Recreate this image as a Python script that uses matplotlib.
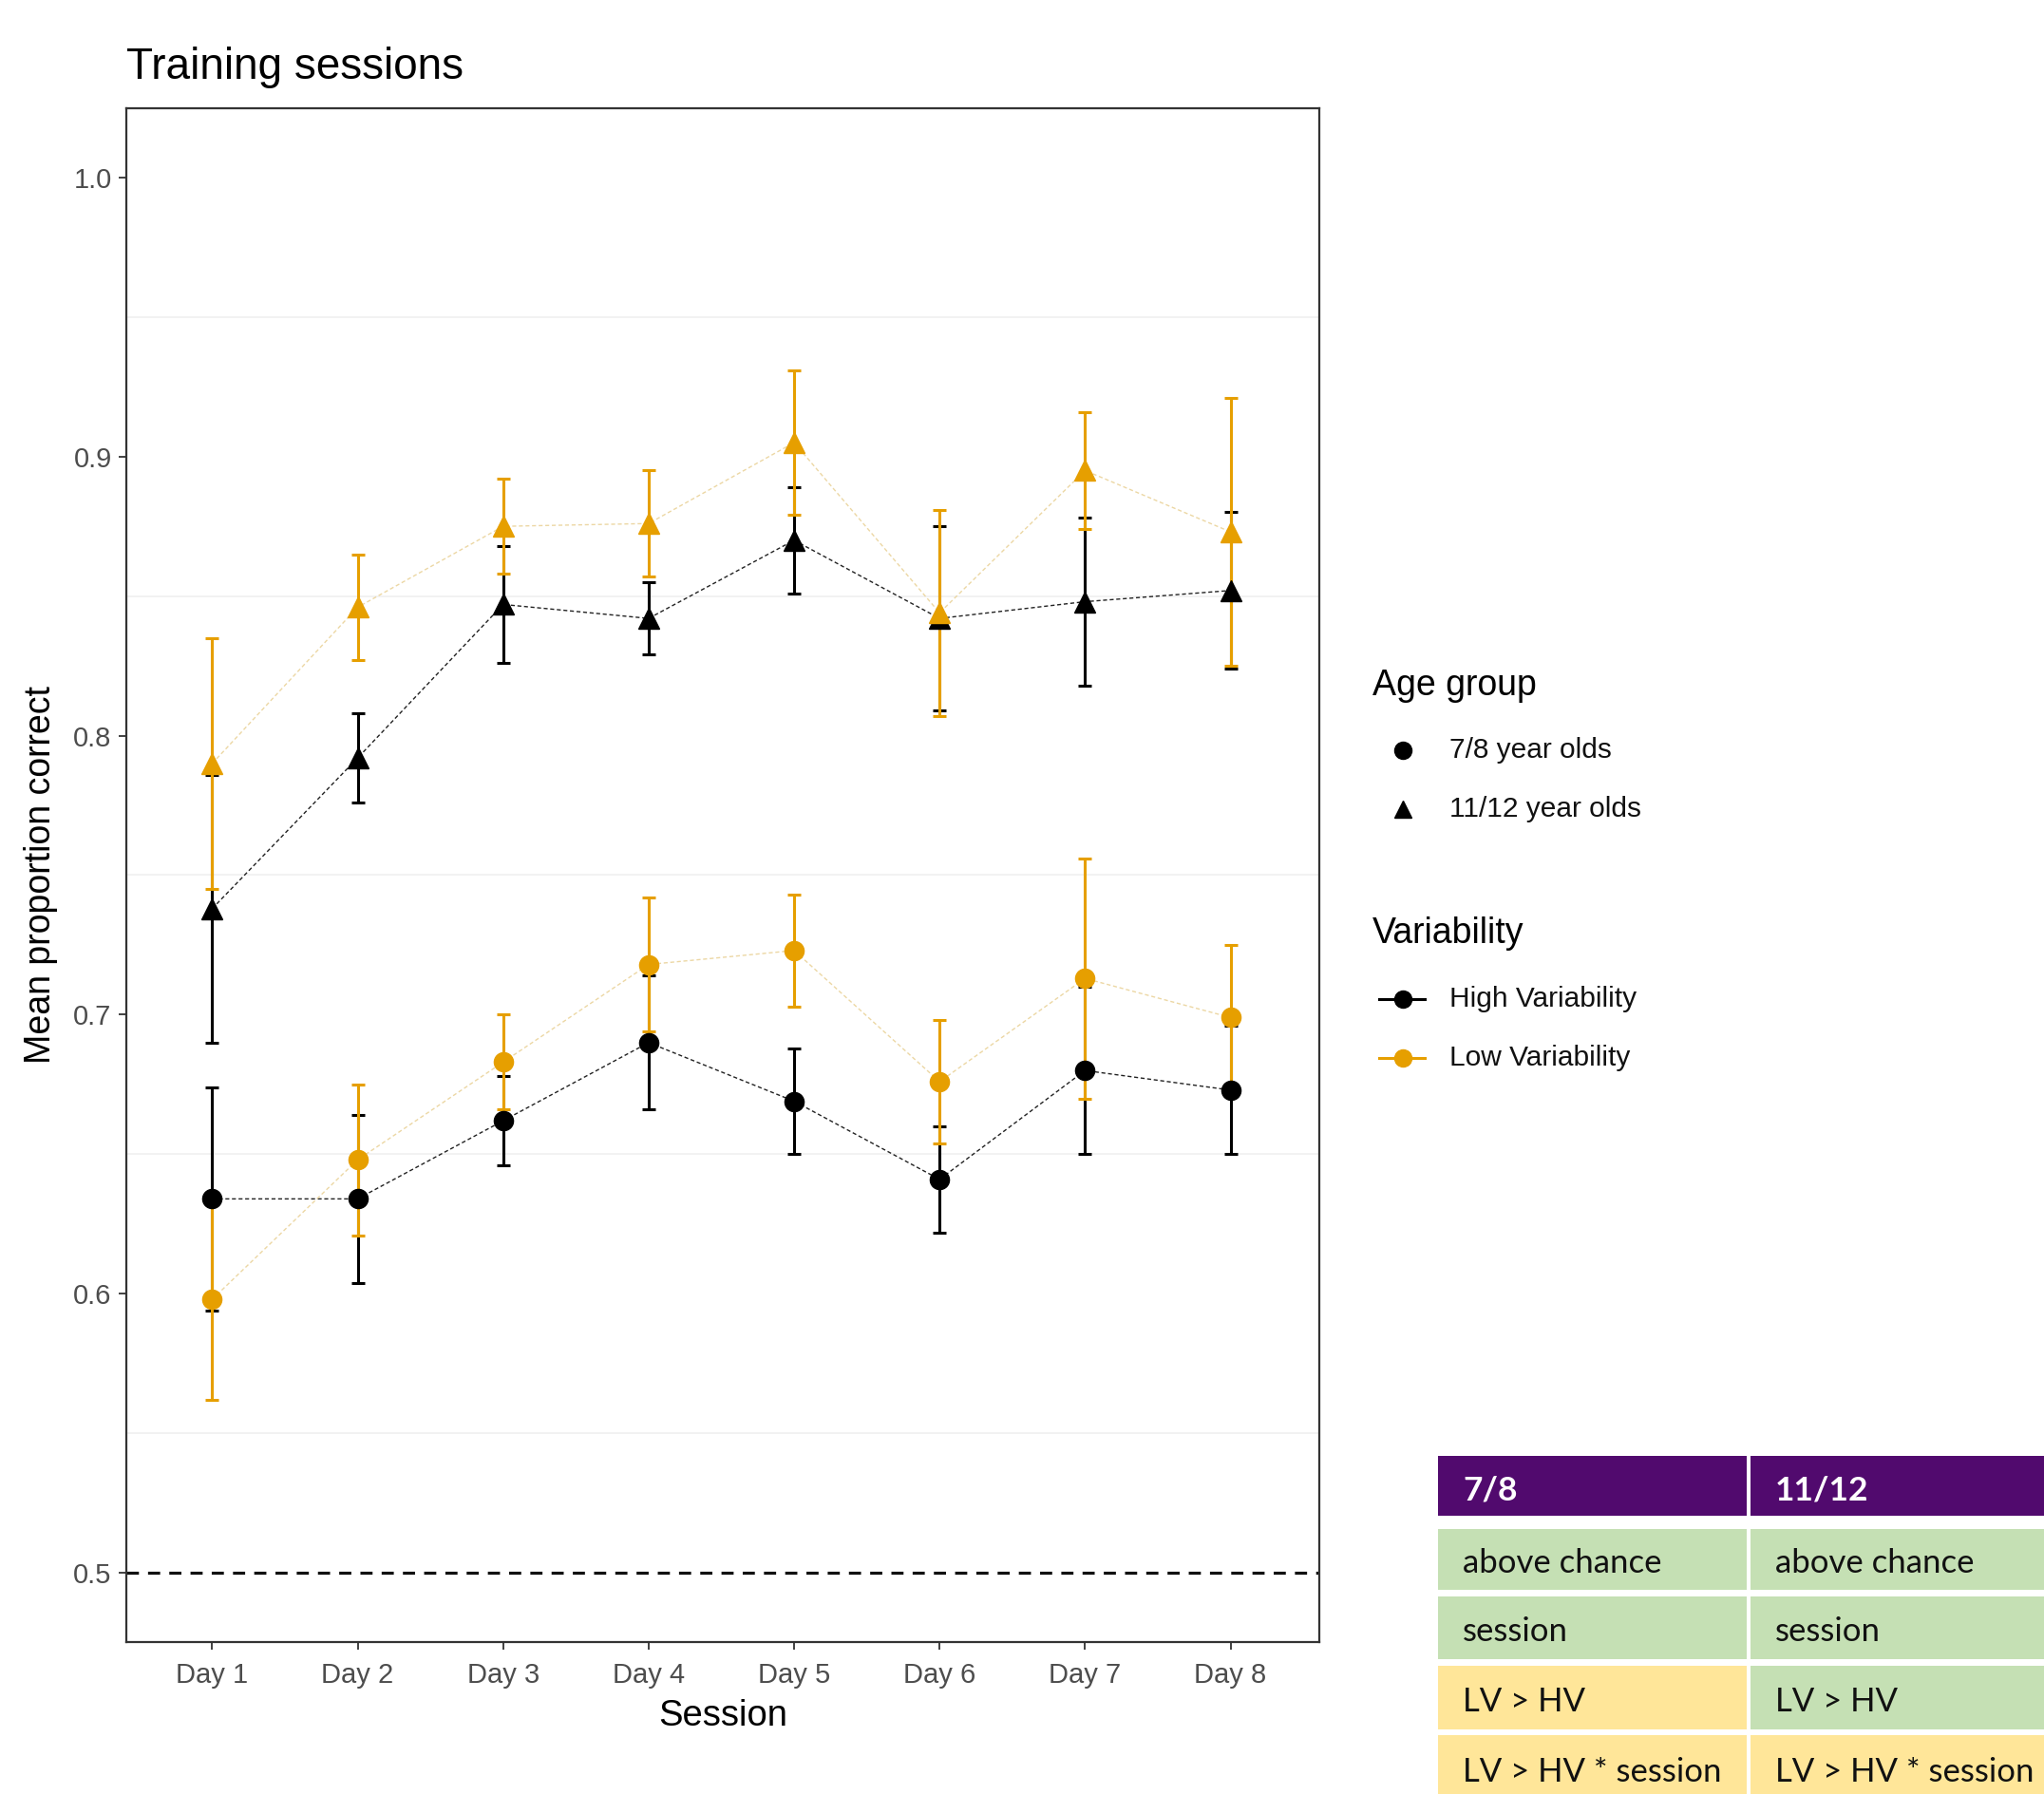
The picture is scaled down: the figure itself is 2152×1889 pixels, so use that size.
import numpy as np
import matplotlib
matplotlib.use('Agg')
import matplotlib.pyplot as plt
from matplotlib.patches import Rectangle

plt.rcParams['font.family'] = ['Liberation Sans', 'DejaVu Sans']

############
# Data ...

days = ['Day 1', 'Day 2', 'Day 3', 'Day 4', 'Day 5', 'Day 6', 'Day 7', 'Day 8']

# 7/8 year olds
hv_78 = [0.634, 0.634, 0.662, 0.690, 0.669, 0.641, 0.680, 0.673]
hv_78_se = [0.040, 0.030, 0.016, 0.024, 0.019, 0.019, 0.030, 0.023]
lv_78 = [0.598, 0.648, 0.683, 0.718, 0.723, 0.676, 0.713, 0.699]
lv_78_se = [0.036, 0.027, 0.017, 0.024, 0.020, 0.022, 0.043, 0.026]

# 11/12 year olds
hv_1112 = [0.738, 0.792, 0.847, 0.842, 0.870, 0.842, 0.848, 0.852]
hv_1112_se = [0.048, 0.016, 0.021, 0.013, 0.019, 0.033, 0.030, 0.028]
lv_1112 = [0.790, 0.846, 0.875, 0.876, 0.905, 0.844, 0.895, 0.873]
lv_1112_se = [0.045, 0.019, 0.017, 0.019, 0.026, 0.037, 0.021, 0.048]

chance = 0.5

age_labels = ['7/8 year olds', '11/12 year olds']
var_labels = ['High Variability', 'Low Variability']

table_header = ['7/8', '11/12']
table_rows = [['above chance', 'above chance'],
              ['session', 'session'],
              ['LV > HV', 'LV > HV'],
              ['LV > HV * session', 'LV > HV * session']]
table_colors = [['#C5E0B4', '#C5E0B4'],
                ['#C5E0B4', '#C5E0B4'],
                ['#FFE699', '#C5E0B4'],
                ['#FFE699', '#FFE699']]

#########
# Style

BLACK = '#000000'
ORANGE = '#E69F00'
GRAY = '#4D4D4D'

W, H = 2152, 1889
fig = plt.figure(figsize=(W/100, H/100), dpi=100)

# main panel (pixel box 133..1389 x 114..1729)
ax = fig.add_axes([133/W, 1 - 1729/H, (1389-133)/W, (1729-114)/H])

x = np.arange(1, len(days)+1)

for yv in [0.55, 0.65, 0.75, 0.85, 0.95]:
    ax.axhline(yv, color='#F0F0F0', lw=1.2, zorder=0)

ax.axhline(chance, color='#111111', lw=2.3, ls=(0, (4, 3)), zorder=1)

series = [
    (hv_78, hv_78_se, BLACK, 'o', '#222222', 1.0),
    (hv_1112, hv_1112_se, BLACK, '^', '#222222', 1.0),
    (lv_78, lv_78_se, ORANGE, 'o', '#EAD39A', 0.9),
    (lv_1112, lv_1112_se, ORANGE, '^', '#EAD39A', 0.9),
]
for vals, se, col, mk, lcol, lalpha in series:
    ax.plot(x, vals, color=lcol, lw=1.0, ls=(0, (3, 2)), alpha=lalpha, zorder=2)
    ax.errorbar(x, vals, yerr=se, fmt='none', ecolor=col, elinewidth=2.2,
                capsize=5, capthick=2.2, zorder=3)
    ax.plot(x, vals, ls='none', marker=mk, color=col, ms=14.5 if mk == 'o' else 15.5,
            zorder=4)

ax.set_xlim(0.41, 8.61)
ax.set_ylim(0.4752, 1.0248)
ax.set_xticks(x)
ax.set_xticklabels(days)
ax.set_yticks([0.5, 0.6, 0.7, 0.8, 0.9, 1.0])
ax.set_yticklabels(['0.5', '0.6', '0.7', '0.8', '0.9', '1.0'])
ax.tick_params(labelsize=21, colors='#333333', labelcolor=GRAY, length=6, width=1.3)
ax.tick_params(axis='x', pad=9)
ax.tick_params(axis='y', pad=5)
for s in ax.spines.values():
    s.set_color('#333333')
    s.set_linewidth(1.6)

ax.set_xlabel('Session', fontsize=27.5, labelpad=8)
ax.set_ylabel('Mean proportion correct', fontsize=27, labelpad=12)
ax.set_title('Training sessions', fontsize=33, loc='left', pad=22)

############################
# Overlay in pixel units for legend + table

ov = fig.add_axes([0, 0, 1, 1], zorder=5)
ov.set_xlim(0, W)
ov.set_ylim(H, 0)
ov.axis('off')
ov.patch.set_alpha(0)

# legend: Age group
ov.text(1445, 722, 'Age group', fontsize=27, va='center', ha='left')
for lab, mk, yy in zip(age_labels, ['o', '^'], [790, 852]):
    ov.plot([1477], [yy], marker=mk, color=BLACK, ms=13, ls='none')
    ov.text(1526, yy, lab, fontsize=21.5, va='center', ha='left', color='#111111')

# legend: Variability
ov.text(1445, 983, 'Variability', fontsize=27, va='center', ha='left')
for lab, col, yy in zip(var_labels, [BLACK, ORANGE], [1052, 1114]):
    ov.plot([1452, 1500], [yy, yy], color=col, lw=2.2)
    ov.plot([1477], [yy], marker='o', color=col, ms=13, ls='none')
    ov.text(1526, yy, lab, fontsize=21.5, va='center', ha='left', color='#111111')

# table (runs off the right edge)
col_x = [1514, 1843]
col_w = [325, 330]
row_y = [1533, 1610, 1681, 1754, 1827]
row_h = [63, 64, 66, 67, 70]

for j, txt in enumerate(table_header):
    ov.add_patch(Rectangle((col_x[j], row_y[0]), col_w[j], row_h[0],
                           facecolor='#510A6E', edgecolor='none'))
    ov.text(col_x[j] + 26, row_y[0] + row_h[0]/2 + 5, txt, fontsize=25.5,
            fontweight='bold', color='white', va='center', ha='left',
            family=['Lato', 'DejaVu Sans'])

for i, row in enumerate(table_rows):
    for j, txt in enumerate(row):
        ov.add_patch(Rectangle((col_x[j], row_y[i+1]), col_w[j], row_h[i+1],
                               facecolor=table_colors[i][j], edgecolor='none'))
        ov.text(col_x[j] + 26, row_y[i+1] + row_h[i+1]/2 + 4, txt, fontsize=25,
                color='#111111', va='center', ha='left',
                family=['Lato', 'DejaVu Sans'])

fig.savefig('out.png', dpi=100)
